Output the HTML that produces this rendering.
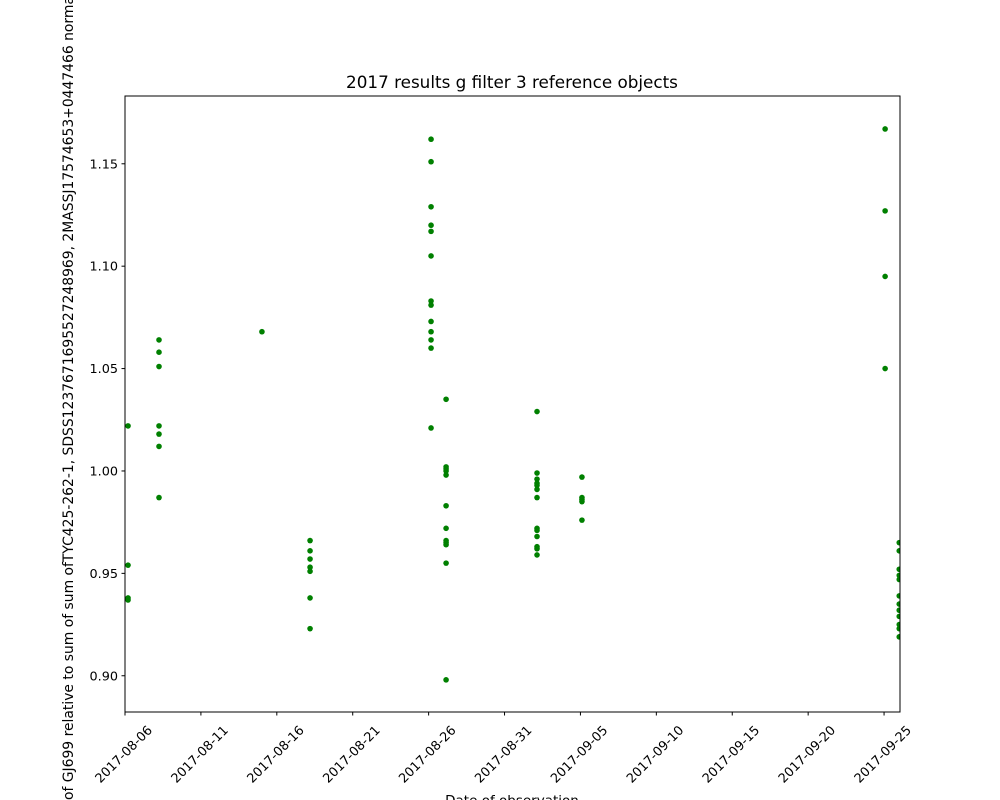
<!DOCTYPE html>
<html><head><meta charset="utf-8"><style>
html,body{margin:0;padding:0;background:#fff;}
svg{display:block;font-family:"DejaVu Sans","Liberation Sans",sans-serif;}
</style></head><body>
<svg id="chart" width="1000" height="800" viewBox="0 0 1000 800" xmlns="http://www.w3.org/2000/svg">
<defs><clipPath id="pc"><rect x="125" y="96" width="775" height="616"/></clipPath></defs>
<text x="512" y="88" text-anchor="middle" font-size="16.8">2017 results g filter 3 reference objects</text>
<g id="marks" clip-path="url(#pc)"></g>
<rect x="125" y="96" width="775" height="616" fill="none" stroke="#000" stroke-width="1"/>
<g id="yt"></g>
<g id="xt"></g>
<text transform="translate(73,397) rotate(-90)" text-anchor="middle" font-size="13.9">flux of GJ699 relative to sum of sum ofTYC425-262-1, SDSS1237671695527248969, 2MASSJ17574653+0447466 normalised</text>
<text x="512" y="805" text-anchor="middle" font-size="13.5">Date of observation</text>
</svg>
<script>
const dayOffsets = [0.2, 2.24, 9.02, 12.19, 20.16, 21.15, 27.14, 30.1, 50.07, 51.0];
const groupValues = [
 [1.022,0.954,0.938,0.937],
 [1.064,1.058,1.051,1.022,1.018,1.012,0.987],
 [1.068],
 [0.966,0.961,0.957,0.953,0.951,0.938,0.923],
 [1.162,1.151,1.129,1.120,1.117,1.105,1.083,1.081,1.073,1.068,1.064,1.060,1.021],
 [1.035,1.002,1.001,1.000,0.998,0.983,0.972,0.966,0.965,0.964,0.955,0.898],
 [1.029,0.999,0.996,0.994,0.993,0.991,0.987,0.972,0.971,0.968,0.963,0.962,0.959],
 [0.997,0.987,0.986,0.985,0.976],
 [1.167,1.127,1.095,1.050],
 [0.965,0.961,0.952,0.949,0.947,0.939,0.935,0.932,0.929,0.925,0.923,0.919]
];
const yTicks = [0.90,0.95,1.00,1.05,1.10,1.15];
const xTickDays = [0,5,10,15,20,25,30,35,40,45,50];
const xTickLabels = ["2017-08-06","2017-08-11","2017-08-16","2017-08-21","2017-08-26","2017-08-31","2017-09-05","2017-09-10","2017-09-15","2017-09-20","2017-09-25"];
const NS="http://www.w3.org/2000/svg";
const X0=125,X1=900,Y0=712,Y1=96;
const xMin=0,xMax=51.05,yMin=0.8823,yMax=1.1831;
function sx(d){return X0+(d-xMin)/(xMax-xMin)*(X1-X0);}
function sy(v){return Y0-(v-yMin)/(yMax-yMin)*(Y0-Y1);}
function mk(t,a){const e=document.createElementNS(NS,t);for(const k in a)e.setAttribute(k,a[k]);return e;}
const marks=document.getElementById('marks');
dayOffsets.forEach((d,i)=>{groupValues[i].forEach(v=>{
 const c=mk('circle',{cx:sx(d),cy:sy(v),r:2.8,fill:'#008000'});
 
 
 marks.appendChild(c);});});
const yt=document.getElementById('yt');
yTicks.forEach(v=>{const y=sy(v);
 const l=mk('line',{x1:X0-3.5,x2:X0,y1:y,y2:y,stroke:'#000'});
 
 
 yt.appendChild(l);
 const t=mk('text',{x:X0-7,y:y+4.5,'text-anchor':'end','font-size':'12.8'});
 
 
 t.textContent=v.toFixed(2);yt.appendChild(t);});
const xt=document.getElementById('xt');
xTickDays.forEach((d,i)=>{const x=sx(d);
 const l=mk('line',{x1:x,x2:x,y1:Y0,y2:Y0+3.5,stroke:'#000'});
 
 
 xt.appendChild(l);
 const t=mk('text',{transform:`translate(${x+28},${Y0+19}) rotate(-45)`,'text-anchor':'end','font-size':'12.8'});
 
 
 t.textContent=xTickLabels[i];xt.appendChild(t);});
</script>
</body></html>
